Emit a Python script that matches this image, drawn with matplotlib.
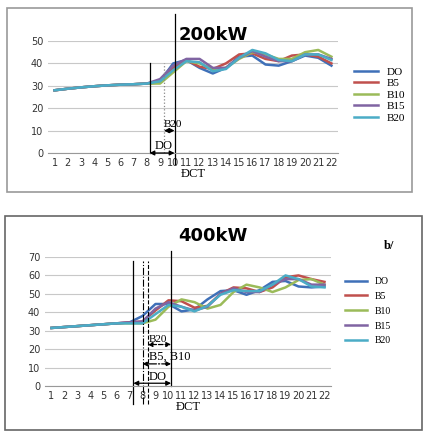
import matplotlib
matplotlib.use("Agg")
import matplotlib.pyplot as plt
from matplotlib.patches import Rectangle

x = list(range(1, 23))
series = ["DO", "B5", "B10", "B15", "B20"]
colors = ["#3f70b8", "#c0504d", "#9bbb59", "#8064a2", "#4bacc6"]
base200 = [28, 28.7, 29.3, 29.8, 30.2, 30.5, 30.7, 31]
top_DO = base200 + [32, 40, 41.5, 38, 35.5, 38, 43, 43.5, 39.5, 39, 41, 43.5, 42.5, 39]
top_B5 = base200 + [31.5, 38, 41.5, 38.5, 37.5, 40, 44, 44.5, 42, 41, 43.5, 44, 43, 40]
top_B10 = base200 + [31, 36, 41, 40, 37.5, 38, 42, 45, 44, 42, 42, 45, 46, 43]
top_B15 = base200 + [33, 39, 42, 42, 38, 38, 42.5, 45.5, 43, 41, 41, 44, 44, 42]
top_B20 = base200 + [32, 37, 41, 40.5, 36.5, 37.5, 42.5, 46, 44.5, 41.5, 41, 44, 44, 41.5]
base400 = [31.5, 32, 32.5, 33, 33.5, 34]
bot_DO = base400 + [34.5, 38, 44.5, 44.5, 40.5, 41.5, 47, 51.5, 52, 49.5, 52, 56.5, 57, 54, 53.5, 54]
bot_B5 = base400 + [34.5, 35, 41, 46.5, 46, 42.5, 43.5, 50, 53.5, 53, 51, 53.5, 59, 60, 58, 56.5]
bot_B10 = base400 + [34, 34, 36, 43, 47, 45.5, 42, 44, 51, 55, 53.5, 51, 53.5, 57.5, 58, 55]
bot_B15 = base400 + [34.5, 35, 42, 45.5, 43, 41, 43, 50, 53, 51, 51, 55, 58, 58, 55, 55]
bot_B20 = base400 + [34, 34, 39, 44, 43, 40.5, 43.5, 49.5, 52, 51.5, 51.5, 55, 60, 58, 54, 53.5]
top_data = [top_DO, top_B5, top_B10, top_B15, top_B20]
bot_data = [bot_DO, bot_B5, bot_B10, bot_B15, bot_B20]

fig = plt.figure(figsize=(4.26, 4.36), dpi=100)
fig.patches.append(Rectangle((7/426, 1-192/436), 405/426, 184/436, transform=fig.transFigure,
                             fill=False, ec="#999999", lw=1.2))
fig.patches.append(Rectangle((5/426, 1-430/436), 417/426, 214/436, transform=fig.transFigure,
                             fill=False, ec="#666666", lw=1.2))
serif = "Liberation Serif"

def setup(ax, data, ymax, step):
    for d, c, n in zip(data, colors, series):
        ax.plot(x, d, color=c, lw=1.8, label=n)
    ax.set_xlim(0.5, 22.5)
    ax.set_ylim(0, ymax)
    ax.set_yticks(range(0, ymax + 1, step))
    ax.set_xticks(x)
    ax.grid(axis="y", color="#c8c8c8", lw=0.8)
    ax.set_axisbelow(True)
    for s in ["top", "right", "left"]:
        ax.spines[s].set_visible(False)
    ax.spines["bottom"].set_color("#999999")
    ax.tick_params(axis="both", labelsize=7, length=0, colors="#333333")
    ax.set_xlabel("ĐCT", fontsize=9, family=serif, labelpad=0)

def arrow(ax, x0, x1, y, ls):
    ax.annotate("", xy=(x0, y), xytext=(x1, y),
                arrowprops=dict(arrowstyle="<|-|>", color="black", lw=0.9, ls=ls,
                                mutation_scale=7, shrinkA=0, shrinkB=0))

ax1 = fig.add_axes([48/426, 1-153/436, 290/426, 112/436])
setup(ax1, top_data, 50, 10)
ax1.plot([8.2, 8.2], [0, 40], color="black", lw=0.9, clip_on=False)
ax1.plot([9.3, 9.3], [0, 40], color="#888888", lw=0.9, ls=":", clip_on=False)
ax1.plot([10.1, 10.1], [-5, 62], color="black", lw=0.9, clip_on=False)
arrow(ax1, 9.3, 10.1, 10, "-")
arrow(ax1, 8.2, 10.1, 0, "-")
ax1.text(9.3, 11.5, "B20", fontsize=8, family=serif)
ax1.text(8.6, 2, "DO", fontsize=9, family=serif)
fig.text(213/426, 1-35/436, "200kW", fontsize=13, weight="bold", ha="center", va="center")
ax1.legend(loc="center left", bbox_to_anchor=(1.02, 0.52), frameon=False,
           prop=dict(family=serif, size=8), handlelength=2.2, labelspacing=0.15)

ax2 = fig.add_axes([45/426, 1-386/436, 286/426, 129/436])
setup(ax2, bot_data, 70, 10)
ax2.plot([7.3, 7.3], [-10, 68], color="black", lw=0.9, clip_on=False)
ax2.plot([8.0, 8.0], [-10, 68], color="black", lw=0.8, ls="-.", clip_on=False)
ax2.plot([8.4, 8.4], [-10, 68], color="black", lw=0.8, ls="--", clip_on=False)
ax2.plot([10.2, 10.2], [0, 73], color="black", lw=0.9, clip_on=False)
arrow(ax2, 8.4, 10.2, 22.5, "--")
arrow(ax2, 8.0, 10.2, 12, "-.")
arrow(ax2, 7.3, 10.2, 1.5, "-")
ax2.text(8.5, 24, "B20", fontsize=8, family=serif)
ax2.text(8.5, 14, "B5, B10", fontsize=9, family=serif)
ax2.text(8.5, 3.5, "DO", fontsize=9, family=serif)
fig.text(213/426, 1-236/436, "400kW", fontsize=13, weight="bold", ha="center", va="center")
fig.text(384/426, 1-246/436, "b/", fontsize=9, weight="bold", family=serif, va="center")
ax2.legend(loc="center left", bbox_to_anchor=(1.02, 0.58), frameon=False,
           prop=dict(family=serif, size=7), handlelength=2.2, labelspacing=0.6)

fig.savefig("out.png", dpi=100)
